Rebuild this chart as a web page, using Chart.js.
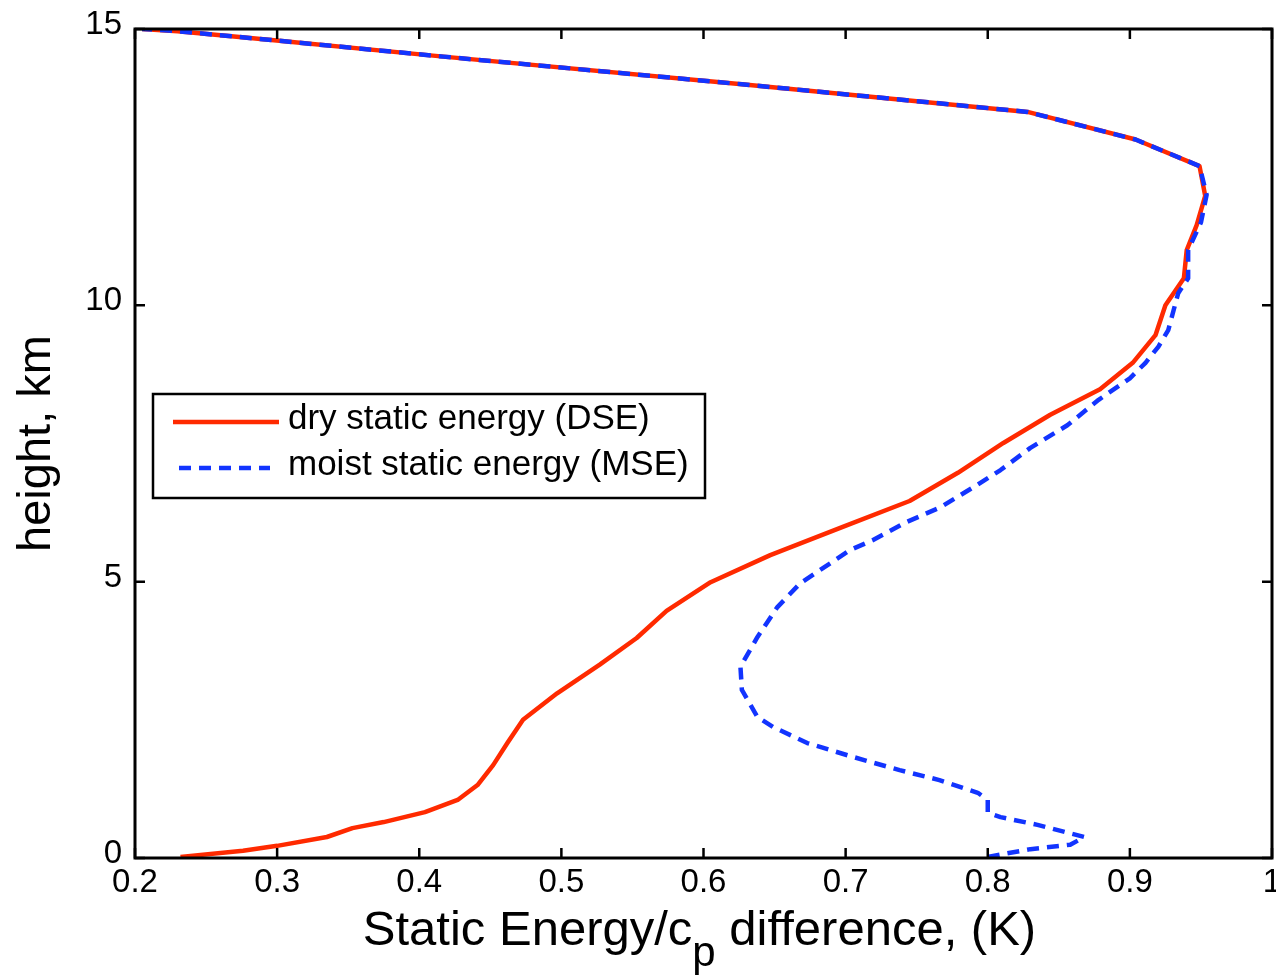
<!DOCTYPE html>
<html>
<head>
<meta charset="utf-8">
<script src="https://cdn.jsdelivr.net/npm/chart.js@4/dist/chart.umd.min.js"></script>
<style>
  html, body { margin: 0; padding: 0; background: #fff; }
  #wrap { position: relative; width: 1276px; height: 977px; }
</style>
</head>
<body>
<div id="wrap"><canvas id="c" width="1276" height="977"></canvas></div>
<script>
// ---- data (x = static energy/cp difference in K, y = height in km) ----
const dseX = [0.232,0.276,0.300,0.335,0.353,0.375,0.404,0.427,0.441,0.452,0.462,0.473,0.497,0.527,0.553,0.574,0.605,0.647,0.698,0.745,0.779,0.811,0.844,0.879,0.902,0.918,0.925,0.938,0.940,0.947,0.953,0.949,0.904,0.828,0.627,0.417,0.296,0.230,0.205];
const dseY = [0.02,0.13,0.22,0.38,0.54,0.65,0.83,1.05,1.32,1.68,2.08,2.50,2.98,3.50,3.98,4.47,4.99,5.48,5.99,6.46,6.97,7.51,8.02,8.48,8.96,9.46,10.00,10.49,11.00,11.45,11.98,12.52,13.00,13.50,14.00,14.50,14.80,14.96,15.00];
const mseX = [0.800,0.830,0.858,0.868,0.835,0.809,0.800,0.800,0.793,0.766,0.738,0.705,0.673,0.649,0.638,0.627,0.626,0.638,0.652,0.668,0.682,0.703,0.719,0.743,0.767,0.790,0.809,0.830,0.856,0.878,0.900,0.911,0.920,0.927,0.934,0.941,0.941,0.950,0.954,0.949,0.904,0.828,0.627,0.417,0.296,0.230,0.205];
const mseY = [0.02,0.16,0.24,0.38,0.60,0.74,0.82,1.05,1.18,1.41,1.59,1.83,2.08,2.37,2.55,3.04,3.46,4.00,4.54,4.97,5.21,5.57,5.75,6.08,6.35,6.71,7.02,7.42,7.83,8.29,8.68,8.96,9.25,9.55,10.22,10.49,11.00,11.50,12.00,12.52,13.00,13.50,14.00,14.50,14.80,14.96,15.00];
const seriesNames = ['dry static energy (DSE)', 'moist static energy (MSE)'];
const xTickLabels = ['0.2','0.3','0.4','0.5','0.6','0.7','0.8','0.9','1'];
const yTickLabels = ['0','5','10','15'];
const xTitleMain = 'Static Energy/c';
const xTitleSub = 'p';
const xTitleRest = ' difference, (K)';
const yTitle = 'height, km';

const RED = 'rgb(255,42,0)';
const BLUE = 'rgb(18,52,255)';
const DASH = [12, 8];
const FONT = '"Liberation Sans", Arial, Helvetica, sans-serif';

const toPts = (xs, ys) => xs.map((x, i) => ({x: x, y: ys[i]}));

const framePlugin = {
  id: 'frame',
  afterDraw(chart) {
    const ctx = chart.ctx;
    const a = chart.chartArea;
    const xs = chart.scales.x, ys = chart.scales.y;
    ctx.save();
    // axes box
    ctx.strokeStyle = '#000';
    ctx.lineWidth = 3;
    ctx.strokeRect(a.left, a.top, a.right - a.left, a.bottom - a.top);
    // inward ticks on all sides
    ctx.lineWidth = 2.5;
    const TL = 10;
    xs.ticks.forEach(t => {
      const p = xs.getPixelForValue(t.value);
      ctx.beginPath();
      ctx.moveTo(p, a.bottom); ctx.lineTo(p, a.bottom - TL);
      ctx.moveTo(p, a.top); ctx.lineTo(p, a.top + TL);
      ctx.stroke();
    });
    ys.ticks.forEach(t => {
      const p = ys.getPixelForValue(t.value);
      ctx.beginPath();
      ctx.moveTo(a.left, p); ctx.lineTo(a.left + TL, p);
      ctx.moveTo(a.right, p); ctx.lineTo(a.right - TL, p);
      ctx.stroke();
    });
    // legend
    const lx = 153, ly = 394, lw = 552, lh = 104;
    ctx.fillStyle = '#fff';
    ctx.fillRect(lx, ly, lw, lh);
    ctx.lineWidth = 2.5;
    ctx.strokeStyle = '#000';
    ctx.strokeRect(lx, ly, lw, lh);
    const dsets = chart.data.datasets;
    const rows = [{y: 422, x0: 173, x1: 279}, {y: 468, x0: 179, x1: 270}];
    dsets.forEach((ds, i) => {
      ctx.beginPath();
      ctx.strokeStyle = ds.borderColor;
      ctx.lineWidth = ds.borderWidth;
      ctx.setLineDash(ds.borderDash || []);
      ctx.moveTo(rows[i].x0, rows[i].y);
      ctx.lineTo(rows[i].x1, rows[i].y);
      ctx.stroke();
      ctx.setLineDash([]);
      ctx.fillStyle = '#000';
      ctx.font = '35px ' + FONT;
      ctx.textAlign = 'left';
      ctx.textBaseline = 'middle';
      ctx.fillText(ds.label, 288, rows[i].y - 3);
    });
    // x title with subscript
    ctx.fillStyle = '#000';
    ctx.textBaseline = 'alphabetic';
    ctx.textAlign = 'left';
    const big = '49px ' + FONT;
    const sub = '42px ' + FONT;
    ctx.font = big;
    const w1 = ctx.measureText(xTitleMain).width;
    const w3 = ctx.measureText(xTitleRest).width;
    ctx.font = sub;
    const w2 = ctx.measureText(xTitleSub).width;
    const total = w1 + w2 + w3;
    const cx = (a.left + a.right) / 2 - 4;
    let x0 = cx - total / 2;
    const base = 945;
    ctx.font = big;
    ctx.fillText(xTitleMain, x0, base);
    ctx.font = sub;
    ctx.fillText(xTitleSub, x0 + w1, base + 21);
    ctx.font = big;
    ctx.fillText(xTitleRest, x0 + w1 + w2, base);
    // y title rotated
    ctx.save();
    ctx.translate(50, (a.top + a.bottom) / 2);
    ctx.rotate(-Math.PI / 2);
    ctx.textAlign = 'center';
    ctx.textBaseline = 'alphabetic';
    ctx.font = '47px ' + FONT;
    ctx.fillText(yTitle, 0, 0);
    ctx.restore();
    ctx.restore();
  }
};

new Chart(document.getElementById('c'), {
  type: 'scatter',
  data: {
    datasets: [
      {
        label: seriesNames[0],
        data: toPts(dseX, dseY),
        showLine: true,
        borderColor: RED,
        backgroundColor: RED,
        borderWidth: 4.5,
        borderJoinStyle: 'round',
        pointRadius: 0,
        tension: 0,
        order: 1
      },
      {
        label: seriesNames[1],
        data: toPts(mseX, mseY),
        showLine: true,
        borderColor: BLUE,
        backgroundColor: BLUE,
        borderWidth: 4.5,
        borderDash: DASH,
        borderJoinStyle: 'round',
        pointRadius: 0,
        tension: 0,
        order: 0
      }
    ]
  },
  options: {
    responsive: false,
    animation: false,
    devicePixelRatio: 1,
    layout: { padding: { left: 0, right: 4, top: 29, bottom: 0 } },
    plugins: { legend: { display: false }, tooltip: { enabled: false } },
    scales: {
      x: {
        type: 'linear',
        min: 0.2, max: 1.0,
        border: { display: false },
        grid: { display: false, drawTicks: false },
        ticks: {
          stepSize: 0.1,
          autoSkip: false,
          maxRotation: 0,
          padding: 5,
          color: '#000',
          font: { family: FONT, size: 33 },
          callback: (v, i) => xTickLabels[i]
        },
        afterFit(s) { s.height = 977 - 858; s.paddingLeft = 0; s.paddingRight = 0; }
      },
      y: {
        type: 'linear',
        min: 0, max: 15,
        border: { display: false },
        grid: { display: false, drawTicks: false },
        ticks: {
          stepSize: 5,
          autoSkip: false,
          padding: 13,
          labelOffset: -4,
          color: '#000',
          font: { family: FONT, size: 33 },
          callback: (v, i) => yTickLabels[i]
        },
        afterFit(s) { s.width = 135; s.paddingTop = 0; s.paddingBottom = 0; }
      }
    }
  },
  plugins: [framePlugin]
});
</script>
</body>
</html>
